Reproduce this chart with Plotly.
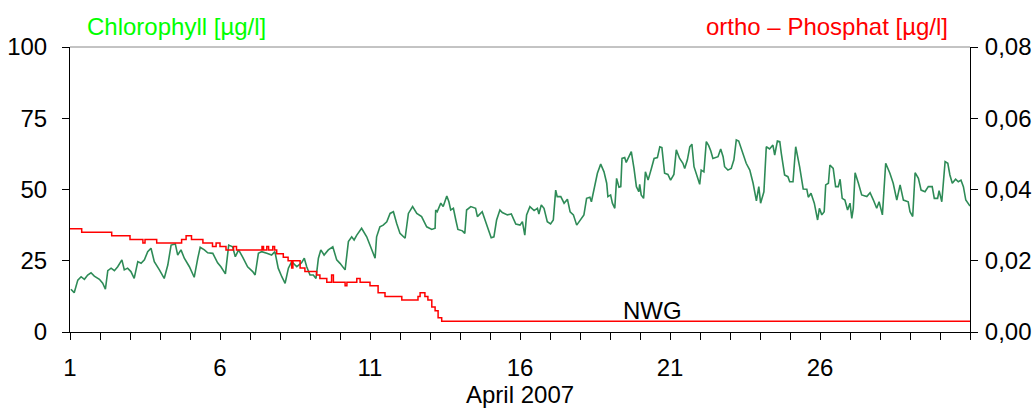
import plotly.graph_objects as go

# Chlorophyll (µg/l) — day of April 2007 and measured value
chl_day = [
    1.03, 1.14, 1.26, 1.37, 1.48, 1.59, 1.70, 1.81, 1.98, 2.09, 2.18, 2.26, 2.37, 2.48, 2.59,
    2.73, 2.81, 2.92, 3.03, 3.14, 3.26, 3.37, 3.48, 3.59, 3.70, 3.81, 3.98, 4.14, 4.26, 4.37,
    4.51, 4.59, 4.70, 4.81, 4.98, 5.14, 5.26, 5.34, 5.48, 5.59, 5.76, 5.92, 6.03, 6.18, 6.29,
    6.42, 6.51, 6.62, 6.76, 6.92, 7.09, 7.17, 7.28, 7.39, 7.56, 7.72, 7.83, 7.94, 8.06, 8.17,
    8.28, 8.39, 8.56, 8.72, 8.81, 8.89, 9.00, 9.11, 9.20, 9.28, 9.36, 9.47, 9.61, 9.76, 9.89,
    10.00, 10.17, 10.28, 10.39, 10.47, 10.56, 10.72, 10.89, 11.00, 11.17, 11.22, 11.33, 11.44,
    11.56, 11.67, 11.78, 11.89, 12.00, 12.17, 12.28, 12.42, 12.56, 12.72, 12.89, 13.06, 13.17,
    13.19, 13.24, 13.36, 13.44, 13.56, 13.63, 13.69, 13.78, 13.86, 13.93, 14.08, 14.16, 14.22,
    14.36, 14.52, 14.58, 14.74, 14.86, 14.97, 15.04, 15.13, 15.22, 15.33, 15.41, 15.58, 15.71,
    15.86, 16.00, 16.08, 16.16, 16.22, 16.33, 16.47, 16.58, 16.63, 16.71, 16.80, 16.91, 17.02,
    17.11, 17.19, 17.24, 17.36, 17.47, 17.58, 17.67, 17.78, 17.89, 18.00, 18.13, 18.22, 18.33,
    18.38, 18.47, 18.58, 18.69, 18.80, 18.89, 18.93, 19.02, 19.08, 19.16, 19.22, 19.30, 19.36,
    19.40, 19.49, 19.54, 19.66, 19.71, 19.80, 19.88, 19.96, 19.99, 20.04, 20.12, 20.18, 20.27,
    20.38, 20.47, 20.58, 20.66, 20.73, 20.82, 20.93, 21.02, 21.13, 21.21, 21.32, 21.43, 21.49,
    21.58, 21.66, 21.73, 21.80, 21.88, 21.99, 22.04, 22.13, 22.21, 22.29, 22.36, 22.43, 22.60,
    22.69, 22.77, 22.82, 22.93, 23.04, 23.13, 23.21, 23.29, 23.43, 23.54, 23.66, 23.77, 23.88,
    23.96, 24.02, 24.13, 24.21, 24.32, 24.43, 24.49, 24.58, 24.66, 24.71, 24.82, 24.93, 24.99,
    25.10, 25.19, 25.32, 25.44, 25.56, 25.61, 25.70, 25.81, 25.92, 25.98, 26.06, 26.14, 26.19,
    26.28, 26.33, 26.44, 26.52, 26.61, 26.67, 26.74, 26.83, 26.92, 27.00, 27.06, 27.11, 27.17,
    27.28, 27.39, 27.56, 27.67, 27.78, 27.89, 27.97, 28.08, 28.19, 28.33, 28.44, 28.56, 28.67,
    28.78, 28.94, 29.00, 29.09, 29.17, 29.28, 29.37, 29.50, 29.61, 29.74, 29.81, 29.92, 29.97,
    30.06, 30.17, 30.26, 30.33, 30.41, 30.52, 30.61, 30.70, 30.78, 30.86, 31.00,
]
chl_value = [
    15.0, 13.8, 18.2, 19.4, 18.5, 20.0, 20.8, 19.6, 18.5, 17.1, 15.0, 21.5, 22.4, 21.5, 22.9,
    25.3, 21.8, 22.4, 21.2, 18.8, 24.7, 24.1, 25.3, 28.2, 29.4, 24.7, 21.8, 18.8, 23.5, 30.5,
    30.9, 27.0, 28.8, 25.9, 22.9, 19.2, 25.9, 29.7, 28.8, 27.8, 27.6, 24.3, 22.9, 20.4, 30.5,
    29.9, 26.4, 28.8, 26.2, 22.9, 21.2, 20.0, 27.6, 28.2, 27.6, 27.0, 28.2, 22.4, 19.4, 17.1,
    22.4, 24.7, 22.9, 24.3, 25.9, 22.9, 20.0, 20.0, 18.8, 25.9, 28.8, 27.0, 28.8, 29.9, 25.3,
    24.1, 21.8, 31.7, 33.4, 32.3, 34.0, 36.4, 33.4, 30.5, 25.9, 33.4, 36.9, 37.5,
    38.7, 41.6, 42.2, 38.1, 34.6, 32.9, 41.6, 44.0, 41.6, 40.5, 36.9, 36.0, 36.4,
    42.8, 42.2, 45.2, 44.0, 47.7, 45.7, 42.8, 43.4, 39.3, 36.0, 35.5, 34.6, 42.8,
    44.0, 43.4, 40.5, 42.2, 38.1, 35.2, 33.1, 33.4, 39.3, 42.8, 41.9, 41.1, 41.4,
    37.9, 37.5, 38.7, 34.0, 41.1, 44.0, 42.6, 43.4, 41.4, 44.6, 43.4, 38.7, 37.9,
    39.3, 49.8, 47.5, 47.5, 45.2, 46.6, 42.2, 41.1, 37.5, 39.3, 41.1, 46.9, 47.3,
    45.7, 49.8, 55.7, 58.9, 56.2, 52.2, 47.5, 48.1, 45.2, 43.4, 53.9, 50.8, 51.0,
    60.9, 61.2, 59.5, 62.4, 63.3, 57.4, 51.0, 49.2, 51.8, 48.1, 46.9, 56.2, 53.3,
    57.4, 60.9, 61.2, 65.0, 64.7, 55.7, 55.3, 53.3, 55.3, 63.9, 60.9, 59.2, 57.4,
    60.4, 65.0, 65.9, 58.0, 55.7, 51.8, 56.8, 56.2, 66.8, 65.4, 63.5, 60.9, 61.5,
    64.2, 61.5, 58.0, 56.8, 57.4, 60.4, 67.4, 67.0, 62.7, 59.2, 56.8, 52.2, 46.0,
    51.0, 45.2, 49.2, 65.0, 64.2, 65.6, 62.1, 67.0, 66.8, 62.7, 55.1, 54.5, 52.7,
    52.7, 65.0, 58.0, 50.2, 50.1, 47.3, 48.7, 45.2, 39.3, 43.4, 41.1, 42.2, 51.6,
    52.2, 58.6, 57.4, 51.0, 51.0, 53.6, 46.9, 46.3, 42.8, 45.2, 39.9, 43.4, 55.9,
    52.2, 48.1, 47.5, 48.9, 46.3, 43.4, 45.7, 41.1, 59.2, 55.7, 52.2, 46.3, 51.6,
    46.3, 45.7, 42.2, 40.5, 55.9, 53.9, 49.8, 49.2, 51.0, 51.0, 46.9, 46.9, 49.6,
    45.7, 59.8, 59.2, 55.1, 52.2, 53.6, 52.7, 53.3, 51.0, 46.3, 44.2,
]

# ortho-Phosphat (µg/l) — value holds from each change point until the next
po4_day = [
    1.00, 1.39, 2.39, 3.00, 3.43, 3.50, 3.89, 4.72, 4.87, 5.05, 5.43, 5.75, 5.87, 6.00,
    6.20, 6.45, 6.55, 7.40, 7.45, 7.56, 7.62, 7.76, 7.82, 7.89, 8.11, 8.27, 8.39, 8.43,
    8.67, 8.83, 9.22, 9.33, 9.56, 9.72, 9.78, 10.17, 10.23, 10.56, 10.67, 11.00, 11.27,
    11.50, 12.06, 12.60, 12.67, 12.83, 12.93, 13.06, 13.17, 13.27, 13.39, 31.00,
]
po4_value = [
    0.029, 0.028, 0.027, 0.026, 0.025, 0.026, 0.025, 0.026, 0.027, 0.026, 0.025, 0.024,
    0.025, 0.024, 0.023, 0.024, 0.023, 0.024, 0.023, 0.024, 0.023, 0.024, 0.023, 0.022,
    0.021, 0.020, 0.018, 0.020, 0.018, 0.017, 0.016, 0.015, 0.014, 0.016, 0.014, 0.013,
    0.014, 0.015, 0.014, 0.013, 0.011, 0.010, 0.009, 0.010, 0.011, 0.010, 0.009, 0.007,
    0.006, 0.004, 0.003, 0.003,
]

nwg_level = 0.003  # detection limit
nwg_day = 20.4

x_ticks = list(range(1, 32))
x_labels = [str(d) if d in (1, 6, 11, 16, 21, 26) else "" for d in x_ticks]
left_ticks = [0, 25, 50, 75, 100]
right_ticks = [0.0, 0.02, 0.04, 0.06, 0.08]

FONT = "Liberation Sans, Arial, sans-serif"
FS = 24

fig = go.Figure()
fig.add_trace(go.Scatter(
    x=chl_day, y=chl_value, mode="lines",
    line=dict(color="#2e8b57", width=1.6), yaxis="y", showlegend=False,
))
fig.add_trace(go.Scatter(
    x=po4_day, y=po4_value, mode="lines",
    line=dict(color="#ff0000", width=1.5, shape="hv"), yaxis="y2", showlegend=False,
))

fig.update_layout(
    width=1036, height=409,
    margin=dict(l=70, r=66, t=47, b=77, autoexpand=False),
    paper_bgcolor="white", plot_bgcolor="white",
    font=dict(family=FONT, size=FS, color="black"),
    separators=", ",
    xaxis=dict(
        range=[1, 31], tickmode="array", tickvals=x_ticks, ticktext=x_labels,
        ticks="outside", ticklen=7, tickcolor="black", showline=True, linecolor="black",
        linewidth=1, showgrid=False, zeroline=False, ticklabelstandoff=7,
        automargin=False,
    ),
    yaxis=dict(
        range=[0, 100], tickmode="array", tickvals=left_ticks,
        ticks="outside", ticklen=7, tickcolor="black", showline=True, linecolor="black",
        linewidth=1, showgrid=False, zeroline=False, ticklabelstandoff=10,
        automargin=False,
    ),
    yaxis2=dict(
        range=[0, 0.08], tickmode="array", tickvals=right_ticks, tickformat=".2f",
        overlaying="y", side="right", automargin=False,
        ticks="outside", ticklen=7, tickcolor="black", showline=True, linecolor="black",
        linewidth=1, showgrid=False, zeroline=False, ticklabelstandoff=2,
    ),
    shapes=[dict(type="line", xref="paper", yref="paper", x0=0, x1=1, y0=1, y1=1,
                 line=dict(color="#888888", width=1))],
    annotations=[
        dict(text="Chlorophyll [µg/l]", xref="paper", yref="paper", x=0.017, y=1,
             xanchor="left", yanchor="middle", yshift=21, showarrow=False,
             font=dict(color="#00ff00", size=FS)),
        dict(text="ortho – Phosphat [µg/l]", xref="paper", yref="paper", x=0.978, y=1,
             xanchor="right", yanchor="middle", yshift=21, showarrow=False,
             font=dict(color="#ff0000", size=FS)),
        dict(text="April 2007", xref="paper", yref="paper", x=0.5, y=0,
             xanchor="center", yanchor="middle", yshift=-62, showarrow=False,
             font=dict(color="black", size=FS)),
        dict(text="NWG", xref="x", yref="y2", x=nwg_day, y=nwg_level,
             xanchor="center", yanchor="bottom", yshift=-5, showarrow=False,
             font=dict(color="black", size=FS)),
    ],
)

fig.write_html("out.html")
